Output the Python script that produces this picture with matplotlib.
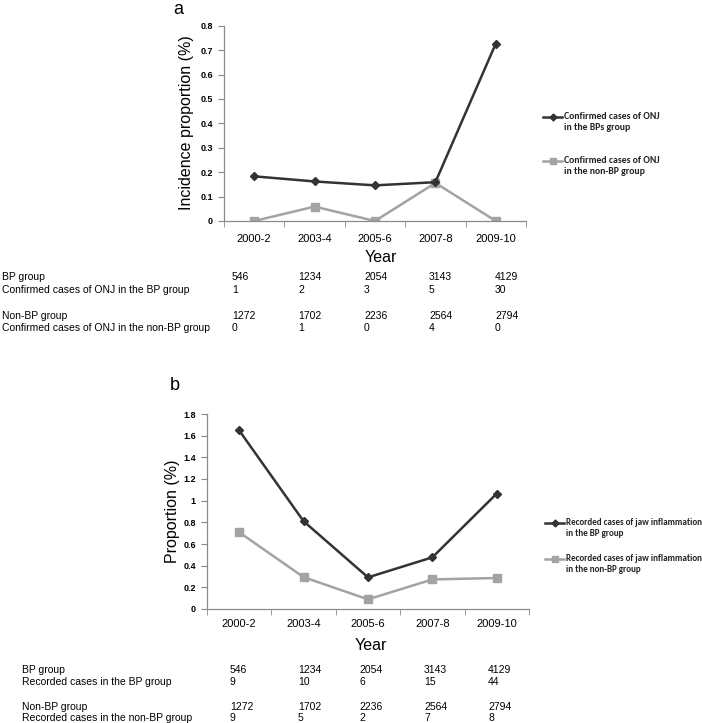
import matplotlib
matplotlib.use("Agg")
import matplotlib.pyplot as plt
from matplotlib.lines import Line2D
from matplotlib import font_manager

W, H = 702, 723

years = ["2000-2", "2003-4", "2005-6", "2007-8", "2009-10"]

# panel a: incidence proportion (%)
onj_bp = [0.183, 0.162, 0.146, 0.159, 0.727]
onj_nonbp = [0.0, 0.059, 0.0, 0.156, 0.0]

# panel b: proportion of jaw inflammation (%)
jaw_bp = [1.648, 0.810, 0.292, 0.477, 1.066]
jaw_nonbp = [0.708, 0.294, 0.089, 0.273, 0.286]

# tables under the panels
bp_n = [546, 1234, 2054, 3143, 4129]
nonbp_n = [1272, 1702, 2236, 2564, 2794]
onj_bp_cases = [1, 2, 3, 5, 30]
onj_nonbp_cases = [0, 1, 0, 4, 0]
jaw_bp_cases = [9, 10, 6, 15, 44]
jaw_nonbp_cases = [9, 5, 2, 7, 8]

DARK = "#333333"
LIGHT = "#a3a3a3"
SPINE = "#8a8a8a"
ARIAL = ["Liberation Sans", "DejaVu Sans"]

installed = {f.name for f in font_manager.fontManager.ttflist}
# narrow face for the tables if there is one
if "Liberation Sans Narrow" in installed:
    TABLE_FONT, TABLE_SIZE = ["Liberation Sans Narrow", "DejaVu Sans"], 8.5
else:
    TABLE_FONT, TABLE_SIZE = ARIAL, 7.5
# the legend was set in a Calibri-like face
if "Carlito" in installed:
    LEG_FONT, LEG_SIZE = ["Carlito", "DejaVu Sans"], 7
elif "Lato" in installed:
    LEG_FONT, LEG_SIZE = ["Lato", "DejaVu Sans"], 6.0
else:
    LEG_FONT, LEG_SIZE = ARIAL, 5.5

fig = plt.figure(figsize=(W / 100, H / 100), dpi=100)


def fx(x):
    return x / W


def fy(y):
    return 1 - y / H


def px_axes(left, right, top, bottom):
    return fig.add_axes([fx(left), fy(bottom), (right - left) / W, (bottom - top) / H])


def style_axes(ax, ymax, ystep, xpad):
    n = int(round(ymax / ystep))
    ticks = [round(i * ystep, 2) for i in range(n + 1)]
    ax.set_xlim(-0.5, len(years) - 0.5)
    ax.set_ylim(0, ymax)
    ax.set_yticks(ticks)
    ax.set_yticklabels(["%g" % t for t in ticks], fontsize=6.5, fontweight="bold", family=ARIAL)
    ax.set_xticks(range(len(years)))
    ax.set_xticklabels(years, fontsize=8, family=ARIAL)
    ax.set_xticks([i - 0.5 for i in range(len(years) + 1)], minor=True)
    ax.tick_params(axis="x", which="major", length=0, pad=xpad)
    ax.tick_params(axis="x", which="minor", length=4, color=SPINE, direction="out")
    ax.tick_params(axis="y", length=4, color=SPINE, direction="out", pad=4)
    for s in ["top", "right"]:
        ax.spines[s].set_visible(False)
    for s in ["left", "bottom"]:
        ax.spines[s].set_color(SPINE)
        ax.spines[s].set_linewidth(0.9)


def legend_entry(x, y, color, marker, ms, lines, size):
    fig.add_artist(Line2D([fx(x), fx(x + 19)], [fy(y), fy(y)], color=color, lw=1.8,
                          transform=fig.transFigure))
    fig.add_artist(Line2D([fx(x + 9.5)], [fy(y)], color=color, marker=marker, ms=ms,
                          transform=fig.transFigure))
    fig.text(fx(x + 21), fy(y - 5), "\n".join(lines), fontsize=size, fontweight="bold",
             family=LEG_FONT, va="top", ha="left", color="#222222", linespacing=1.3)


def table(rows, ys, label_x, col_xs):
    for (label, vals), y in zip(rows, ys):
        fig.text(fx(label_x), fy(y), label, fontsize=TABLE_SIZE, family=TABLE_FONT, va="center")
        for v, x in zip(vals, col_xs):
            fig.text(fx(x), fy(y), str(v), fontsize=TABLE_SIZE, family=TABLE_FONT, va="center")


xa = list(range(len(years)))

# ---------------- panel a ----------------
axa = px_axes(224, 526, 25.7, 221)
axa.plot(xa, onj_bp, color=DARK, lw=1.8, marker="D", ms=4.5, zorder=3)
axa.plot(xa, onj_nonbp, color=LIGHT, lw=1.8, marker="s", ms=6, zorder=2)
style_axes(axa, 0.8, 0.1, 9)
fig.text(fx(187), fy(123), "Incidence proportion (%)", fontsize=11.5, family=ARIAL,
         rotation=90, ha="center", va="center")
fig.text(fx(178), fy(9), "a", fontsize=13, family=ARIAL, ha="center", va="center")
fig.text(fx(381), fy(257), "Year", fontsize=11.5, family=ARIAL, ha="center", va="center")

legend_entry(543, 117, DARK, "D", 3.5, ["Confirmed cases of ONJ", "in the BPs group"], LEG_SIZE)
legend_entry(543, 161, LIGHT, "s", 4.5, ["Confirmed cases of ONJ", "in the non-BP group"], LEG_SIZE)

table([("BP group", bp_n),
       ("Confirmed cases of ONJ in the BP group", onj_bp_cases),
       ("Non-BP group", nonbp_n),
       ("Confirmed cases of ONJ in the non-BP group", onj_nonbp_cases)],
      [277, 290, 316, 328], 2, [232, 298, 364, 429, 495])

# ---------------- panel b ----------------
axb = px_axes(207, 529, 414, 609)
axb.plot(xa, jaw_bp, color=DARK, lw=1.8, marker="D", ms=4.5, zorder=3)
axb.plot(xa, jaw_nonbp, color=LIGHT, lw=1.8, marker="s", ms=6, zorder=2)
style_axes(axb, 1.8, 0.2, 7)
fig.text(fx(173), fy(511), "Proportion (%)", fontsize=11.5, family=ARIAL,
         rotation=90, ha="center", va="center")
fig.text(fx(175), fy(385), "b", fontsize=13, family=ARIAL, ha="center", va="center")
fig.text(fx(371), fy(645), "Year", fontsize=11.5, family=ARIAL, ha="center", va="center")

legend_entry(545, 523, DARK, "D", 3.5, ["Recorded cases of jaw inflammation", "in the BP group"],
             LEG_SIZE * 0.93)
legend_entry(545, 559, LIGHT, "s", 4.5, ["Recorded cases of jaw inflammation", "in the non-BP group"],
             LEG_SIZE * 0.93)

table([("BP group", bp_n),
       ("Recorded cases in the BP group", jaw_bp_cases),
       ("Non-BP group", nonbp_n),
       ("Recorded cases in the non-BP group", jaw_nonbp_cases)],
      [670, 682, 707, 718], 22, [230, 298, 359, 424, 488])

fig.savefig("out.png", dpi=100, facecolor="white")
